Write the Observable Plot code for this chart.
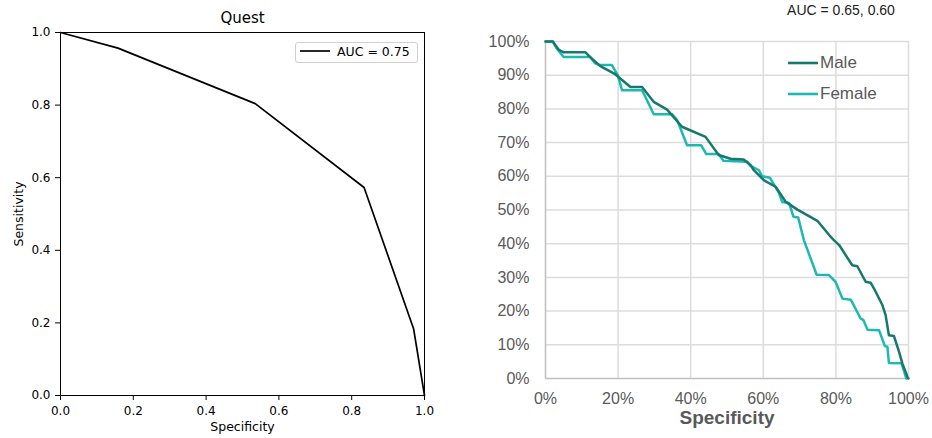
<!DOCTYPE html>
<html>
<head>
<meta charset="utf-8">
<script src="https://cdn.jsdelivr.net/npm/d3@7"></script>
<script src="https://cdn.jsdelivr.net/npm/@observablehq/plot@0.6"></script>
<style>
  html, body { margin: 0; padding: 0; background: white; }
  #wrap { position: relative; width: 932px; height: 438px; overflow: hidden; background: white; }
  .panel { position: absolute; top: 0; }
  .lg { position: absolute; white-space: nowrap; }
</style>
</head>
<body>
<div id="wrap">
  <div id="left" class="panel" style="left:0px"></div>
  <div id="right" class="panel" style="left:470px"></div>
  <div class="lg" style="left:295px;top:42px;width:121px;height:19px;border:1px solid #d0d0d0;border-radius:3px;background:rgba(255,255,255,0.85);font-family:'DejaVu Sans';font-size:12.5px;color:#000;">
    <svg width="34" height="19" style="position:absolute;left:3px;top:0"><line x1="1" x2="31" y1="8" y2="8" stroke="black" stroke-width="1.7"/></svg>
    <span id="lgLeft" style="position:absolute;left:41px;top:0px;line-height:17px"></span>
  </div>
  <div class="lg" style="left:786px;top:52px;font-family:'Liberation Sans',Arial;font-size:17px;color:#595959;">
    <svg width="34" height="22" style="position:absolute;left:0;top:0"><line x1="2" x2="32" y1="11" y2="11" id="lgMaleLine" stroke-width="2.6"/></svg>
    <span id="lgMale" style="position:absolute;left:34px;top:1px;line-height:20px"></span>
  </div>
  <div class="lg" style="left:786px;top:83px;font-family:'Liberation Sans',Arial;font-size:17px;color:#595959;">
    <svg width="34" height="22" style="position:absolute;left:0;top:0"><line x1="2" x2="32" y1="11" y2="11" id="lgFemaleLine" stroke-width="2.6"/></svg>
    <span id="lgFemale" style="position:absolute;left:34px;top:1px;line-height:20px"></span>
  </div>
</div>
<script>
// ---------- Left panel data (Quest ROC) ----------
const questTitle = "Quest";
const questLegend = "AUC = 0.75";
const questSpec = [0, 0.158, 0.535, 0.834, 0.970, 1.0];
const questSens = [1.0, 0.957, 0.804, 0.573, 0.184, 0.0];
const leftTicks = [0, 0.2, 0.4, 0.6, 0.8, 1.0];

// ---------- Right panel data (Male / Female ROC, percent) ----------
const rightTitle = "AUC = 0.65, 0.60";
const seriesNames = ["Male", "Female"];
const seriesColors = ["#17796a", "#1db8b3"];
const maleSpec = [0, 2.0, 3.6, 5.0, 11.0, 13.2, 15.1, 19.2, 23.4, 26.6, 29.8, 33.5, 37.6, 44.1, 47.7, 51.0, 54.6, 56.5, 57.4, 60.2, 63.4, 66.2, 69.4, 74.9, 78.6, 79.5, 80.9, 84.5, 85.9, 88.2, 89.6, 90.5, 92.8, 93.7, 94.6, 96.0, 97.4, 98.3, 99.7, 100];
const maleSens = [100, 100, 97.6, 96.8, 96.8, 94.5, 92.7, 90.3, 86.5, 86.5, 82.1, 79.8, 74.7, 71.7, 66.3, 65.2, 65.0, 63.3, 61.8, 58.8, 56.9, 52.4, 50.1, 46.8, 42.0, 41.0, 39.6, 33.6, 33.3, 28.7, 28.4, 26.7, 21.8, 18.8, 12.8, 12.6, 7.9, 4.5, 0.5, 0];
const femaleSpec = [0, 2.0, 3.1, 5.0, 12.3, 13.7, 15.1, 18.3, 19.9, 21.1, 26.6, 27.5, 29.8, 34.9, 36.3, 39.0, 42.9, 44.3, 47.7, 49.0, 55.6, 56.5, 58.8, 59.7, 61.8, 64.3, 65.2, 67.1, 68.3, 69.6, 71.2, 74.7, 78.1, 79.9, 81.8, 84.1, 86.8, 87.6, 88.7, 91.9, 93.5, 94.2, 94.6, 98.1, 99.4];
const femaleSens = [100, 100, 97.9, 95.4, 95.4, 93.5, 93.0, 93.0, 90.0, 85.5, 85.5, 83.6, 78.4, 78.4, 76.6, 69.2, 69.2, 66.6, 66.6, 64.6, 64.3, 63.1, 61.8, 60.0, 59.6, 55.1, 52.4, 52.1, 48.0, 47.8, 41.0, 30.8, 30.7, 28.7, 23.7, 23.4, 17.8, 17.3, 14.5, 14.3, 9.6, 9.4, 4.6, 4.5, 0];
const rightXTicks = [0, 20, 40, 60, 80, 100];
const rightYTicks = [0, 10, 20, 30, 40, 50, 60, 70, 80, 90, 100];
const xLabel = "Specificity";
const yLabelLeft = "Sensitivity";

// ---------- Build tables ----------
const quest = questSpec.map((s, i) => ({spec: s, sens: questSens[i]}));
const male = maleSpec.map((s, i) => ({spec: s, sens: maleSens[i], group: seriesNames[0]}));
const female = femaleSpec.map((s, i) => ({spec: s, sens: femaleSens[i], group: seriesNames[1]}));

// ---------- Left plot ----------
const left = Plot.plot({
  width: 440, height: 438,
  marginLeft: 60, marginRight: 16, marginTop: 32, marginBottom: 43,
  style: {fontFamily: "DejaVu Sans", fontSize: "12px", color: "black", background: "white"},
  x: {domain: [0, 1]},
  y: {domain: [0, 1]},
  marks: [
    Plot.axisX({ticks: leftTicks, tickFormat: d3.format(".1f"), tickSize: 5, tickPadding: 6, label: null, fontSize: 12, stroke: "black"}),
    Plot.axisY({ticks: leftTicks, tickFormat: d3.format(".1f"), tickSize: 5, tickPadding: 5, label: null, fontSize: 12, stroke: "black"}),
    Plot.line(quest, {x: "spec", y: "sens", stroke: "black", strokeWidth: 1.7}),
    Plot.frame({stroke: "black", strokeWidth: 1}),
    Plot.text([questTitle], {frameAnchor: "top", lineAnchor: "middle", dy: -14, fontSize: 15, fill: "black"}),
    Plot.text([xLabel], {frameAnchor: "bottom", lineAnchor: "middle", dy: 31, fontSize: 12.5, fill: "black"}),
    Plot.text([yLabelLeft], {frameAnchor: "left", textAnchor: "middle", lineAnchor: "middle", dx: -42, rotate: -90, fontSize: 12.5, fill: "black"})
  ]
});
document.getElementById("left").appendChild(left);
document.getElementById("lgLeft").textContent = questLegend;

// ---------- Right plot ----------
const pct = d => d + "%";
const right = Plot.plot({
  width: 462, height: 438,
  marginLeft: 75, marginRight: 24, marginTop: 41, marginBottom: 60,
  style: {fontFamily: "'Liberation Sans', Arial, sans-serif", fontSize: "16px", color: "#595959", background: "white"},
  x: {domain: [0, 100]},
  y: {domain: [0, 100]},
  marks: [
    Plot.gridX({ticks: rightXTicks.filter(d => d > 0), stroke: "#dcdcdc", strokeOpacity: 1, strokeWidth: 1.5}),
    Plot.gridY({ticks: rightYTicks.filter(d => d > 0), stroke: "#dcdcdc", strokeOpacity: 1, strokeWidth: 1.5}),
    Plot.ruleX([0], {stroke: "#bfbfbf", strokeWidth: 1.5}),
    Plot.ruleY([0], {stroke: "#bfbfbf", strokeWidth: 1.5}),
    Plot.axisX({ticks: rightXTicks, tickFormat: pct, tickSize: 0, tickPadding: 14, label: null, fontSize: 16, fill: "#595959"}),
    Plot.axisY({ticks: rightYTicks, tickFormat: pct, tickSize: 0, tickPadding: 16, label: null, fontSize: 16, fill: "#595959"}),
    Plot.line(female, {x: "spec", y: "sens", stroke: seriesColors[1], strokeWidth: 2.5}),
    Plot.line(male, {x: "spec", y: "sens", stroke: seriesColors[0], strokeWidth: 2.5}),
    Plot.text([xLabel], {frameAnchor: "bottom", lineAnchor: "middle", dy: 39, fontSize: 19, fontWeight: "bold", fill: "#595959"}),
    Plot.text([rightTitle], {frameAnchor: "top", lineAnchor: "middle", dx: 114, dy: -31, fontSize: 14, fill: "#222"})
  ]
});
document.getElementById("right").appendChild(right);
document.getElementById("lgMale").textContent = seriesNames[0];
document.getElementById("lgFemale").textContent = seriesNames[1];
document.getElementById("lgMaleLine").setAttribute("stroke", seriesColors[0]);
document.getElementById("lgFemaleLine").setAttribute("stroke", seriesColors[1]);
</script>
</body>
</html>
